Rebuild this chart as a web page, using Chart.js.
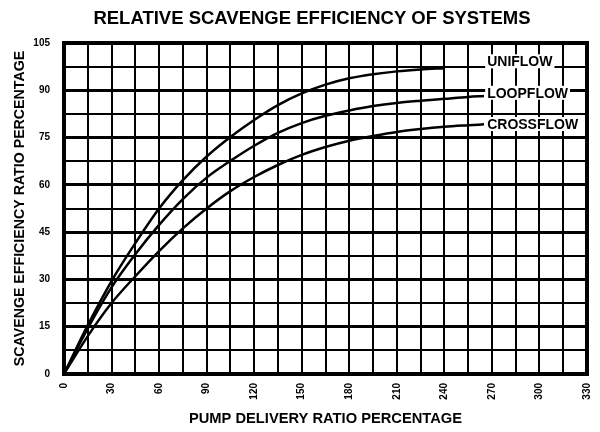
<!DOCTYPE html>
<html>
<head>
<meta charset="utf-8">
<script src="https://cdn.jsdelivr.net/npm/chart.js@4.4.0/dist/chart.umd.min.js"></script>
<style>
  html, body { margin: 0; padding: 0; background: #fff; }
  #wrap { width: 600px; height: 432px; }
</style>
</head>
<body>
<div id="wrap"><canvas id="scavengeChart"></canvas></div>
<script>
// pump delivery ratio (%) and scavenge efficiency (%)
var uniX = [0, 15, 30, 45, 60, 75, 90, 105, 120, 135, 150, 165, 180, 195, 210, 225, 240];
var uniY = [0, 15.5, 29.5, 41.5, 52.5, 61.5, 69, 75.2, 80.6, 85.3, 89, 91.8, 93.8, 95.1, 96, 96.6, 97];

var loopX = [0, 15, 30, 45, 60, 75, 90, 105, 120, 135, 150, 165, 180, 195, 210, 225, 240, 255, 265];
var loopY = [0, 14.5, 27.5, 38, 47.3, 55.5, 62.3, 67.6, 72.4, 76.5, 79.6, 81.9, 83.6, 85, 86, 86.7, 87.3, 87.9, 88.2];

var crossX = [0, 15, 30, 45, 60, 75, 90, 105, 120, 135, 150, 165, 180, 195, 210, 225, 240, 255, 265];
var crossY = [0, 12, 22.5, 31, 39, 46.2, 52.5, 58, 62.5, 66.3, 69.5, 72, 74, 75.5, 76.8, 77.7, 78.4, 78.9, 79.2];

var seriesNames = ["UNIFLOW", "LOOPFLOW", "CROSSFLOW"];
// where the curve names sit, in data units
var nameX = [267, 267, 267];
var nameY = [99.2, 89.2, 79.3];

var chartTitle = "RELATIVE SCAVENGE EFFICIENCY OF SYSTEMS";

function toPoints(xs, ys) {
  var pts = [];
  for (var i = 0; i < xs.length; i++) {
    pts.push({ x: xs[i], y: ys[i] });
  }
  return pts;
}

function curve(label, xs, ys) {
  return {
    label: label,
    data: toPoints(xs, ys),
    borderColor: "#000",
    borderWidth: 2.5,
    pointRadius: 0,
    fill: false,
    cubicInterpolationMode: "monotone"
  };
}

var frameAndNames = {
  id: "frameAndNames",
  afterDatasetsDraw: function (chart) {
    var ctx = chart.ctx;
    var a = chart.chartArea;
    var xs = chart.scales.x;
    var ys = chart.scales.y;
    ctx.save();
    ctx.strokeStyle = "#000";
    ctx.lineWidth = 4;
    ctx.strokeRect(a.left, a.top, a.right - a.left, a.bottom - a.top);

    ctx.font = "bold 14px 'Liberation Sans', Arial, sans-serif";
    ctx.textBaseline = "middle";
    ctx.textAlign = "left";
    for (var i = 0; i < seriesNames.length; i++) {
      var px = xs.getPixelForValue(nameX[i]);
      var py = ys.getPixelForValue(nameY[i]);
      var w = ctx.measureText(seriesNames[i]).width;
      ctx.fillStyle = "#fff";
      ctx.fillRect(px - 2, py - 7, w + 4, 14);
      ctx.fillStyle = "#000";
      ctx.fillText(seriesNames[i], px, py + 1);
    }

    // chart heading
    ctx.font = "bold 18.5px 'Liberation Sans', Arial, sans-serif";
    ctx.textAlign = "center";
    ctx.fillText(chartTitle, 312, 19);
    ctx.restore();
  }
};

var tickFont = { family: "'Liberation Sans Narrow', 'Liberation Sans', sans-serif", size: 10, weight: "bold" };

var ctx = document.getElementById("scavengeChart").getContext("2d");
var chart = new Chart(ctx, {
  type: "line",
  data: {
    datasets: [
      curve(seriesNames[0], uniX, uniY),
      curve(seriesNames[1], loopX, loopY),
      curve(seriesNames[2], crossX, crossY)
    ]
  },
  options: {
    responsive: true,
    maintainAspectRatio: false,
    animation: false,
    layout: { padding: { left: 0, right: 13, top: 43, bottom: 0 } },
    plugins: {
      legend: { display: false },
      tooltip: { enabled: false },
      title: { display: false }
    },
    scales: {
      x: {
        type: "linear",
        min: 0,
        max: 330,
        afterFit: function (scale) {
          scale.height = 58;
          scale.paddingLeft = 0;
          scale.paddingRight = 0;
        },
        grid: { color: "#000", lineWidth: 2, drawTicks: false },
        border: { display: true, color: "#000", width: 4 },
        ticks: {
          stepSize: 15,
          autoSkip: false,
          maxRotation: 90,
          minRotation: 90,
          padding: 9,
          color: "#000",
          font: tickFont,
          callback: function (v) { return v % 30 === 0 ? v : ""; }
        },
        title: {
          display: true,
          text: "PUMP DELIVERY RATIO PERCENTAGE",
          color: "#000",
          font: { family: "'Liberation Sans', Arial, sans-serif", size: 14.7, weight: "bold", lineHeight: 1.2 },
          padding: { top: 0, bottom: 4.3 }
        }
      },
      y: {
        min: 0,
        max: 105,
        afterFit: function (scale) {
          scale.width = 64;
          scale.paddingTop = 0;
          scale.paddingBottom = 0;
        },
        grid: {
          color: "#000",
          drawTicks: false,
          lineWidth: function (c) { return c.tick && c.tick.value % 15 === 0 ? 3 : 2; }
        },
        border: { display: true, color: "#000", width: 4 },
        ticks: {
          stepSize: 7.5,
          autoSkip: false,
          padding: 14,
          color: "#000",
          font: tickFont,
          callback: function (v) { return v % 15 === 0 ? v : ""; }
        },
        title: {
          display: true,
          text: "SCAVENGE EFFICIENCY RATIO PERCENTAGE",
          color: "#000",
          font: { family: "'Liberation Sans', Arial, sans-serif", size: 14.2, weight: "bold", lineHeight: 1.2 },
          padding: { top: 11.5, bottom: 0 }
        }
      }
    }
  },
  plugins: [frameAndNames]
});
</script>
</body>
</html>
